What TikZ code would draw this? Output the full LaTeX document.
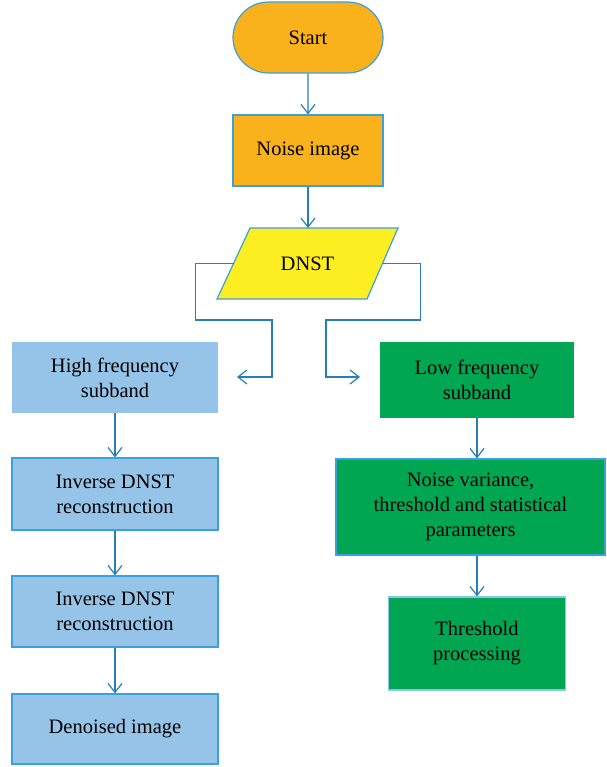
\documentclass[tikz,border=0pt]{standalone}
\usepackage{fontspec}
\setmainfont{Liberation Serif}
\usetikzlibrary{shapes.geometric,shapes.misc,arrows.meta}
\definecolor{orng}{RGB}{249,178,28}
\definecolor{yel}{RGB}{252,238,33}
\definecolor{lblue}{RGB}{150,196,232}
\definecolor{grn}{RGB}{0,166,81}
\definecolor{linec}{RGB}{38,128,184}
\definecolor{bordc}{RGB}{60,160,220}
\tikzset{
  txt/.style={font=\fontsize{20.5}{25}\selectfont, text=black, align=center, inner sep=0pt},
  box/.style={txt, rectangle, draw=bordc, line width=1.2pt},
  nobox/.style={txt, rectangle},
  arr/.style={draw=linec, line width=1.2pt, -{Straight Barb[length=9pt,width=14pt,line width=1.2pt]}},
}
\begin{document}
\begin{tikzpicture}[x=1pt,y=-1pt]
\useasboundingbox (0,0) rectangle (606,767);
\node[txt, rounded rectangle, draw=bordc, line width=1.2pt, fill=orng, minimum width=150pt, minimum height=71pt] (start) at (308,37.5) {Start};
\node[box, fill=orng, minimum width=150pt, minimum height=71pt] (noise) at (308,150.5) {Noise image};
\filldraw[draw=bordc, line width=1.2pt, fill=yel] (250,228) -- (398,228) -- (367,299) -- (217,299) -- cycle;
\node[txt] (dnst) at (307.5,263.5) {DNST};
\coordinate (dnstw) at (233.5,263.5);
\coordinate (dnste) at (382.5,263.5);
\coordinate (dnstn) at (308,228);
\node[nobox, fill=lblue, minimum width=206pt, minimum height=71pt] (high) at (115,377.5) {High frequency\\subband};
\node[box, fill=lblue, minimum width=206pt, minimum height=72pt] (inv1) at (115,494) {Inverse DNST\\reconstruction};
\node[box, fill=lblue, minimum width=206pt, minimum height=71pt] (inv2) at (115,611.5) {Inverse DNST\\reconstruction};
\node[box, fill=lblue, minimum width=206pt, minimum height=70pt] (den) at (115,729) {Denoised image};
\node[nobox, fill=grn, minimum width=194pt, minimum height=76pt] (low) at (477,380) {Low frequency\\subband};
\node[box, fill=grn, minimum width=269pt, minimum height=96pt] (var) at (470.5,507) {Noise variance,\\threshold and statistical\\parameters};
\node[box, draw=bordc!60, fill=grn, minimum width=177pt, minimum height=93pt] (thr) at (477,643.5) {Threshold\\processing};
\coordinate (la) at (237,377);
\coordinate (ra) at (360,377);
\draw[arr] (start) -- (noise);
\draw[arr] (noise) -- (dnstn);
\draw[arr] (dnstw) -- ++(-38,0) |- (272,320) -- (272,377) -- (la);
\draw[arr] (dnste) -- ++(38,0) |- (326,320) -- (326,377) -- (ra);
\draw[arr] (high) -- (inv1);
\draw[arr] (inv1) -- (inv2);
\draw[arr] (inv2) -- (den);
\draw[arr] (low.south) -- (low.south |- var.north);
\draw[arr] (low.south |- var.south) -- (thr.north);
\end{tikzpicture}
\end{document}
